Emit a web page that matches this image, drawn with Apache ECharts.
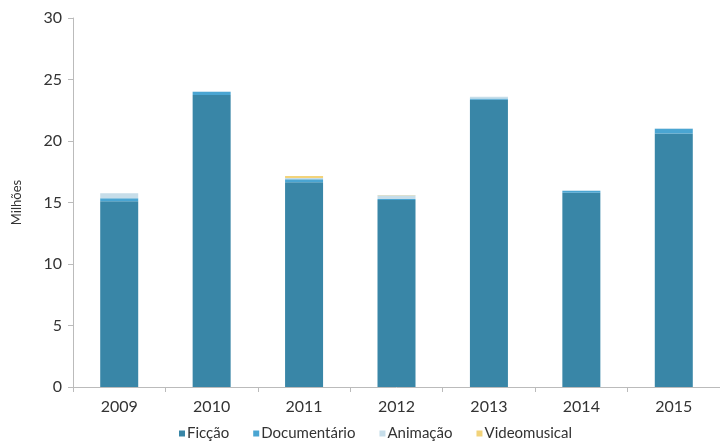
<!DOCTYPE html>
<html>
<head>
<meta charset="utf-8">
<script src="https://cdn.jsdelivr.net/npm/echarts@6/dist/echarts.min.js"></script>
<style>html,body{margin:0;padding:0;background:#fff}#c{width:720px;height:447px}</style>
</head>
<body>
<div id="c"></div>
<script>
var categories = ['2009', '2010', '2011', '2012', '2013', '2014', '2015'];
var seriesNames = ['Ficção', 'Documentário', 'Animação', 'Videomusical'];
var ficcao = [15.1, 23.75, 16.65, 15.2, 23.35, 15.8, 20.6];
var documentario = [0.25, 0.25, 0.25, 0.08, 0.1, 0.15, 0.4];
var animacao = [0.4, 0.02, 0.1, 0.3, 0.15, 0.02, 0.03];
var videomusical = [0, 0, 0.15, 0.02, 0, 0, 0];
var yTicks = [0, 5, 10, 15, 20, 25, 30];
var colors = ['#3986a7', '#4aa5d2', '#c6dde9', '#f2d37a'];

var font = 'Lato, "Open Sans", sans-serif';
var values = [ficcao, documentario, animacao, videomusical];
var chart = echarts.init(document.getElementById('c'));
chart.setOption({
  animation: false,
  textStyle: { fontFamily: font },
  grid: { left: 73, right: -11, top: 18, bottom: 60, containLabel: false },
  legend: {
    data: seriesNames,
    bottom: 1,
    left: 174,
    itemWidth: 6,
    itemHeight: 6,
    itemGap: 24,
    icon: 'rect',
    textStyle: { fontFamily: font, fontSize: 15, color: '#333', padding: [0, 0, 0, -3] }
  },
  xAxis: {
    type: 'category',
    data: categories,
    axisLine: { lineStyle: { color: '#bbbbbb' } },
    axisTick: { show: true, alignWithLabel: false, length: 5, lineStyle: { color: '#bbbbbb' } },
    axisLabel: { color: '#333', fontSize: 16, margin: 12, fontFamily: font }
  },
  yAxis: {
    type: 'value',
    min: yTicks[0],
    max: yTicks[yTicks.length - 1],
    interval: yTicks[1] - yTicks[0],
    name: 'Milhões',
    nameLocation: 'middle',
    nameGap: 50,
    nameRotate: 90,
    nameTextStyle: { color: '#333', fontSize: 13, fontFamily: font },
    axisLine: { show: true, lineStyle: { color: '#bbbbbb' } },
    axisTick: { show: true, length: 5, lineStyle: { color: '#bbbbbb' } },
    splitLine: { show: false },
    axisLabel: { color: '#333', fontSize: 16, margin: 11, fontFamily: font }
  },
  series: seriesNames.map(function (n, i) {
    return {
      name: n,
      type: 'bar',
      stack: 'total',
      barWidth: 38,
      data: values[i],
      itemStyle: { color: colors[i] }
    };
  })
});
</script>
</body>
</html>
